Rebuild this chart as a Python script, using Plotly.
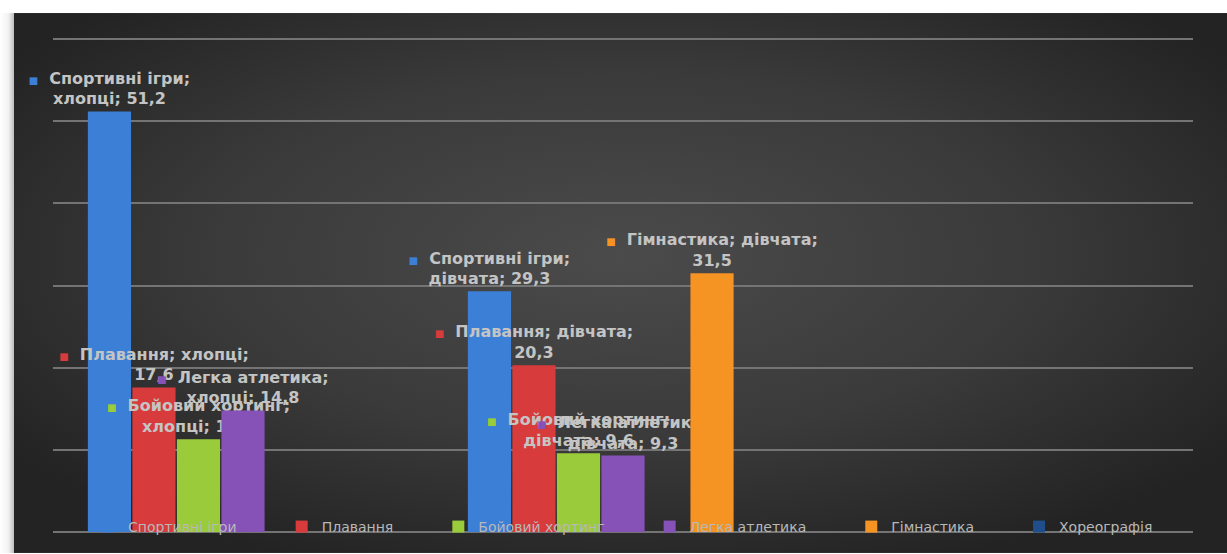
import base64
import plotly.graph_objects as go

# ---- data ----
categories = ["хлопці", "дівчата", " "]
series_names = ["Спортивні ігри", "Плавання", "Бойовий хортинг", "Легка атлетика",
                "", "Гімнастика", "Хореографія"]
values_sport = [51.2, 29.3, None]
values_swim = [17.6, 20.3, None]
values_combat = [11.3, 9.6, None]
values_athletics = [14.8, 9.3, None]
values_blank = [None, None, None]
values_gym = [None, 31.5, None]
values_dance = [None, None, None]
series_values = [values_sport, values_swim, values_combat, values_athletics,
                 values_blank, values_gym, values_dance]
series_colors = ["#3b7fd6", "#d83b3b", "#9acb3a", "#8752b8", "#555555", "#f59323", "#1f4e8c"]
break_after_category = [False, True, False, False, False, True, False]
grid_values = [0, 10, 20, 30, 40, 50, 60]

# ---- geometry of the page ----
W, H = 1227, 554
ML, MR, MT, MB = 53, 34, 31, 21
PW, PH = W - ML - MR, H - MT - MB

bg_svg = f'''<svg xmlns="http://www.w3.org/2000/svg" width="{W}" height="{H}" viewBox="0 0 {W} {H}" preserveAspectRatio="none">
<defs>
<radialGradient id="g" cx="0.5" cy="0.45" r="0.62">
<stop offset="0" stop-color="#4b4b4b"/><stop offset="0.55" stop-color="#3a3a3a"/><stop offset="1" stop-color="#232323"/>
</radialGradient>
<linearGradient id="e" x1="0" x2="1" y1="0" y2="0">
<stop offset="0" stop-color="#ffffff"/><stop offset="0.6" stop-color="#f2f2f2"/><stop offset="1" stop-color="#bdbdbd"/>
</linearGradient>
</defs>
<rect x="0" y="0" width="{W}" height="{H}" fill="#ffffff"/>
<rect x="0" y="13" width="14" height="{H-13}" fill="url(#e)"/>
<rect x="14" y="13" width="{W-14}" height="{H-13}" fill="url(#g)"/>
</svg>'''
bg_uri = "data:image/svg+xml;base64," + base64.b64encode(bg_svg.encode()).decode()


def fmt(v):
    return f"{v:.1f}".replace(".", ",")


NBSP = "\u00a0"
fig = go.Figure()
n_named = sum(1 for n in series_names if n)
k = 0
for name, vals, col, brk in zip(series_names, series_values, series_colors, break_after_category):
    texts = []
    for cat, v in zip(categories, vals):
        if v is None:
            texts.append("")
            continue
        mark = f"<span style='color:{col};font-size:10px'>■</span>  "
        if brk:
            texts.append(f"{mark}{name}; {cat};<br>{fmt(v)}")
        else:
            texts.append(f"{mark}{name};<br>{cat}; {fmt(v)}")
    legend_name = name
    if name:
        k += 1
        if k < n_named:
            legend_name = name + NBSP * 9
    fig.add_trace(go.Bar(
        x=categories, y=vals, name=legend_name if name else "blank",
        marker=dict(color=col, line=dict(width=0)),
        text=texts, textposition="outside", texttemplate="%{text}",
        textfont=dict(family="DejaVu Sans", size=16, color="#c4c4c4", weight="bold"),
        constraintext="none", cliponaxis=False,
        showlegend=bool(name), hoverinfo="skip",
    ))

fig.update_layout(
    width=W, height=H,
    margin=dict(l=ML, r=MR, t=MT, b=MB, pad=0),
    paper_bgcolor="#ffffff", plot_bgcolor="rgba(0,0,0,0)",
    barmode="group", bargap=0.18, bargroupgap=0.03,
    images=[dict(source=bg_uri, xref="paper", yref="paper",
                 x=-ML / PW, y=1 + MT / PH, sizex=W / PW, sizey=H / PH,
                 xanchor="left", yanchor="top", sizing="stretch", layer="below")],
    xaxis=dict(showticklabels=False, showgrid=False, showline=False, ticks="",
               fixedrange=True),
    yaxis=dict(range=[0, 61], tickvals=grid_values, showticklabels=False, ticks="",
               showgrid=True, gridcolor="#747474", gridwidth=2,
               zeroline=True, zerolinecolor="#747474", zerolinewidth=2, showline=False),
    legend=dict(orientation="h", x=0.5, xanchor="center", y=0.012, yanchor="middle",
                bgcolor="rgba(0,0,0,0)",
                font=dict(family="DejaVu Sans", size=14, color="#b8b8b8"),
                itemclick=False, itemdoubleclick=False, tracegroupgap=0),
    showlegend=True,
)

fig.write_html("out.html")
